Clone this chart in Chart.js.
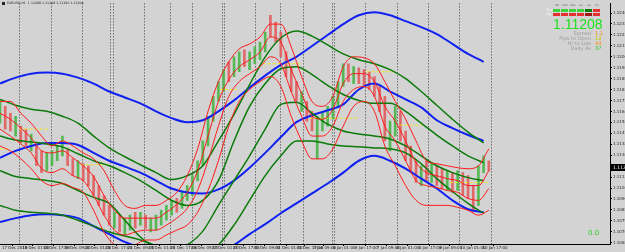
<!DOCTYPE html>
<html>
<head>
<meta charset="utf-8">
<script src="https://cdn.jsdelivr.net/npm/chart.js@4.4.0/dist/chart.umd.min.js"></script>
<style>
html, body { margin: 0; padding: 0; background: #d3d3d3; }
#wrap { position: relative; width: 625px; height: 252px; overflow: hidden; font-family: "DejaVu Sans", sans-serif; }
#c { position: absolute; left: 0; top: 0; }
.t { position: absolute; white-space: nowrap; line-height: 1; }
.pill { position: absolute; width: 7px; height: 3px; }
.hd { position: absolute; width: 8px; text-align: center; font-size: 2.5px; color: #555; line-height: 1; }
</style>
</head>
<body>
<div id="wrap">
  <canvas id="c" width="625" height="252"></canvas>
  <div class="t" style="left:2px;top:2px;width:3px;height:3px;background:#222"></div>
  <div class="t" style="left:7px;top:2px;font-size:3.2px;color:#222">EURUSD,H1&nbsp; 1.11208 1.11208 1.11196 1.11208</div>

  <div id="pills"></div>
  <div class="t" style="left:546px;top:9px;font-size:3px;color:#fff">Trnd</div>
  <div class="t" style="left:546px;top:13px;font-size:3px;color:#fff">Sig</div>

  <div class="t" style="left:553px;top:17px;font-size:14px;color:#22e022;font-family:'Liberation Sans',sans-serif">1.11208</div>
  <div class="t" style="right:34px;top:31px;font-size:5px;color:#9a9a9a">Spread</div>
  <div class="t" style="left:595px;top:31px;font-size:5px;color:#ff8c00">1.1</div>
  <div class="t" style="right:34px;top:36px;font-size:5px;color:#9a9a9a">Pips to Open</div>
  <div class="t" style="left:595px;top:36px;font-size:5px;color:#c8c800">12</div>
  <div class="t" style="right:34px;top:41px;font-size:5px;color:#9a9a9a">Hi to Low</div>
  <div class="t" style="left:595px;top:41px;font-size:5px;color:#ff8c00">44</div>
  <div class="t" style="right:34px;top:46px;font-size:5px;color:#9a9a9a">Daily Av</div>
  <div class="t" style="left:595px;top:46px;font-size:5px;color:#22cc22">37</div>

  <div class="t" style="left:588px;top:230px;font-size:7px;color:#33cc33">0.0</div>
</div>
<script>
// ---- data ----
const lastPrice = 1.11208;

const yTicks = [1.10620,1.10705,1.10790,1.10875,1.10960,1.11045,1.11130,1.11215,1.11300,1.11385,1.11470,
  1.11555,1.11640,1.11725,1.11810,1.11895,1.11980,1.12065,1.12150,1.12235,1.12320,1.12405];

// hourly bar index of each time label
const timeBars = [1.5,17,33,49,65,81,98,114,131,147,163,179,195,212,228,241,256,273,290,305,322,338,354,371];
const timeLabels = ["17 Dec 2019","18 Dec 01:00","18 Dec 17:00","19 Dec 09:00","20 Dec 01:00","20 Dec 17:00",
  "23 Dec 09:00","24 Dec 01:00","24 Dec 17:00","26 Dec 09:00","27 Dec 01:00","27 Dec 17:00","30 Dec 09:00",
  "31 Dec 01:00","31 Dec 17:00","3 Jan 09:00","6 Jan 01:00","6 Jan 17:00","7 Jan 09:00","8 Jan 01:00",
  "8 Jan 17:00","9 Jan 09:00","10 Jan 01:00","10 Jan 17:00"];

// period separators (bar index where a day starts)
const daySeparators = [14.8,39,62.8,84.6,87.2,110.8,130.8,147.7,170.5,172.3,196.2,215.4,232.8,255.2,256.9,
  280.8,305.2,329,353.3,377.7];

const candleBars = [0,4,8,12,16,20,24,28,32,36,40,44,48,52,56,60,64,68,72,76,80,84,88,92,96,100,104,108,112,116,
  120,124,128,132,136,140,144,148,152,156,160,164,168,172,176,180,184,188,192,196,200,204,208,212,216,220,224,228,
  232,236,240,244,248,252,256,260,264,268,272,276,280,284,288,292,296,300,304,308,312,316,320,324,328,332,336,340,
  344,348,352,356,360,364,368,372,376];
const candleHigh = [
  1.11718,1.11680,1.11626,1.11603,1.11526,1.11503,1.11465,1.11372,1.11334,1.11318,
  1.11334,1.11372,1.11449,1.11349,1.11272,1.11257,1.11234,1.11218,1.11141,1.11064,
  1.10987,1.10910,1.10857,1.10834,1.10811,1.10834,1.10857,1.10857,1.10834,1.10811,
  1.10834,1.10872,1.10910,1.10949,1.10964,1.11011,1.11064,1.11141,1.11257,1.11411,
  1.11603,1.11757,1.11872,1.11965,1.12026,1.12065,1.12103,1.12119,1.12103,1.12142,
  1.12180,1.12257,1.12388,1.12334,1.12257,1.12103,1.11988,1.11872,1.11795,1.11718,
  1.11641,1.11603,1.11641,1.11680,1.11757,1.11872,1.12011,1.12011,1.11988,1.11980,
  1.11965,1.11949,1.11911,1.11834,1.11757,1.11565,1.11680,1.11641,1.11488,1.11372,
  1.11257,1.11218,1.11257,1.11242,1.11218,1.11195,1.11180,1.11165,1.11180,1.11165,
  1.11141,1.11064,1.11218,1.11295,1.11257];
const candleLow = [
  1.11549,1.11503,1.11488,1.11449,1.11395,1.11372,1.11334,1.11218,1.11165,1.11180,
  1.11218,1.11257,1.11295,1.11218,1.11141,1.11118,1.11103,1.11064,1.10987,1.10910,
  1.10834,1.10757,1.10734,1.10703,1.10680,1.10718,1.10734,1.10757,1.10734,1.10703,
  1.10718,1.10757,1.10795,1.10834,1.10857,1.10887,1.10949,1.10987,1.11103,1.11218,
  1.11372,1.11565,1.11718,1.11795,1.11872,1.11911,1.11949,1.11988,1.11965,1.12011,
  1.12042,1.12103,1.12219,1.12180,1.12065,1.11911,1.11795,1.11718,1.11641,1.11565,
  1.11488,1.11272,1.11488,1.11526,1.11580,1.11680,1.11834,1.11872,1.11857,1.11857,
  1.11842,1.11811,1.11757,1.11641,1.11411,1.11334,1.11449,1.11411,1.11257,1.11165,
  1.11088,1.11064,1.11103,1.11088,1.11064,1.11041,1.11026,1.11011,1.11026,1.10987,
  1.10964,1.10857,1.10910,1.11165,1.11180];
const candleUp = [1,0,0,1,0,0,1,0,0,1, 1,1,1,0,0,1,0,0,0,0, 0,0,1,0,1,1,0,1,0,1, 1,1,1,1,0,1,1,1,1,1,
  1,1,1,1,0,1,1,0,1,1, 1,1,0,0,0,0,0,0,1,0, 0,1,1,1,1,1,1,0,1,0, 0,0,0,0,0,1,1,0,0,0,
  0,1,0,1,0,0,1,0,1,0, 0,0,1,1,0];

// slow bands (blue) and medium bands (green), one value every 12 bars
const bandBars = [0,12,24,36,48,60,72,84,96,108,120,132,144,156,168,180,192,204,216,228,240,252,264,276,288,
  300,312,324,336,348,360,372];
const blueUpper = [1.11857,1.11903,1.11934,1.11942,1.11934,1.11903,1.11857,1.11795,1.11749,1.11703,1.11641,
  1.11588,1.11557,1.11572,1.11641,1.11726,1.11826,1.11919,1.12003,1.12065,1.12149,1.12234,1.12319,1.12388,
  1.12411,1.12388,1.12342,1.12296,1.12242,1.12165,1.12088,1.12026];
const blueMiddle = [1.11280,1.11334,1.11372,1.11395,1.11395,1.11380,1.11318,1.11257,1.11211,1.11165,1.11103,
  1.11041,1.11011,1.11003,1.11034,1.11103,1.11203,1.11318,1.11441,1.11557,1.11611,1.11649,1.11695,1.11811,
  1.11857,1.11795,1.11734,1.11672,1.11572,1.11511,1.11457,1.11411];
const blueLower = [1.10780,1.10811,1.10834,1.10841,1.10834,1.10811,1.10749,1.10687,1.10626,1.10580,1.10533,
  1.10503,1.10487,1.10503,1.10549,1.10603,1.10687,1.10764,1.10849,1.10926,1.11003,1.11080,1.11165,1.11257,
  1.11295,1.11257,1.11195,1.11118,1.11041,1.10949,1.10880,1.10857];
const green1 = [1.11734,1.11688,1.11657,1.11641,1.11603,1.11549,1.11449,1.11357,1.11288,1.11226,1.11165,
  1.11111,1.11141,1.11218,1.11411,1.11618,1.11849,1.12065,1.12211,1.12265,1.12226,1.12157,1.12088,1.12042,
  1.12011,1.11965,1.11896,1.11795,1.11688,1.11580,1.11480,1.11395];
const green2 = [1.11449,1.11418,1.11403,1.11388,1.11365,1.11311,1.11257,1.11218,1.11165,1.11103,1.11026,
  1.10949,1.10910,1.10949,1.11103,1.11411,1.11680,1.11857,1.11972,1.11988,1.11926,1.11842,1.11772,1.11726,
  1.11703,1.11703,1.11641,1.11549,1.11457,1.11372,1.11295,1.11242];
const green3 = [1.11180,1.11134,1.11118,1.11103,1.11080,1.11026,1.10972,1.10926,1.10795,1.10664,1.10580,
  1.10564,1.10603,1.10710,1.10910,1.11103,1.11295,1.11503,1.11695,1.11711,1.11626,1.11541,1.11488,1.11465,
  1.11449,1.11426,1.11372,1.11295,1.11218,1.11165,1.11126,1.11103];
const green4 = [1.10910,1.10872,1.10857,1.10849,1.10834,1.10795,1.10749,1.10703,1.10672,1.10641,1.10595,
  1.10526,1.10503,1.10526,1.10603,1.10757,1.10949,1.11141,1.11295,1.11411,1.11411,1.11388,1.11372,1.11365,
  1.11357,1.11349,1.11318,1.11234,1.11118,1.11018,1.10926,1.10849];

// fast bands (red), one value every 8 bars
const redBars = [0,8,16,24,32,40,48,56,64,72,80,88,96,104,112,120,128,136,144,152,160,168,176,184,192,200,
  208,216,224,232,240,248,256,264,272,280,288,296,304,312,320,328,336,344,352,360,368,376];
const red1 = [1.11718,1.11718,1.11626,1.11549,1.11449,1.11372,1.11411,1.11372,1.11318,1.11272,1.11180,1.11026,
  1.10910,1.10887,1.10910,1.10910,1.10949,1.11011,1.11141,1.11349,1.11641,1.11872,1.12026,1.12126,1.12165,
  1.12219,1.12319,1.12319,1.12142,1.11911,1.11718,1.11680,1.11757,1.11988,1.12065,1.12057,1.12011,1.11872,
  1.11718,1.11580,1.11411,1.11257,1.11234,1.11218,1.11203,1.11195,1.11218,1.11349];
const red2 = [1.11626,1.11580,1.11511,1.11434,1.11334,1.11318,1.11334,1.11280,1.11218,1.11134,1.10987,1.10872,
  1.10811,1.10811,1.10811,1.10811,1.10857,1.10918,1.11011,1.11180,1.11449,1.11718,1.11888,1.11988,1.12042,
  1.12103,1.12219,1.12180,1.11965,1.11780,1.11603,1.11580,1.11657,1.11857,1.11934,1.11934,1.11872,1.11680,
  1.11565,1.11411,1.11242,1.11165,1.11141,1.11118,1.11103,1.11064,1.11064,1.11180];
const red3 = [1.11503,1.11449,1.11388,1.11318,1.11195,1.11165,1.11195,1.11141,1.11103,1.10987,1.10834,1.10718,
  1.10680,1.10703,1.10718,1.10718,1.10757,1.10811,1.10887,1.11026,1.11257,1.11526,1.11757,1.11872,1.11934,
  1.11988,1.12065,1.12011,1.11795,1.11603,1.11449,1.11449,1.11526,1.11718,1.11811,1.11834,1.11757,1.11526,
  1.11411,1.11257,1.11103,1.11064,1.11049,1.11026,1.11011,1.10964,1.10949,1.11041];
const red4 = [1.11372,1.11334,1.11272,1.11195,1.11103,1.11064,1.11080,1.11049,1.11011,1.10872,1.10703,1.10603,
  1.10564,1.10603,1.10641,1.10641,1.10680,1.10718,1.10757,1.10857,1.11026,1.11257,1.11526,1.11718,1.11811,
  1.11872,1.11911,1.11834,1.11603,1.11411,1.11272,1.11272,1.11349,1.11526,1.11680,1.11718,1.11641,1.11372,
  1.11218,1.11064,1.10949,1.10910,1.10910,1.10910,1.10895,1.10872,1.10834,1.10872];

// daily levels: [from bar, to bar, price]
const yellowLevels = [[0,8,1.11349],[15,38,1.11503],[62,85,1.11226],[169,182,1.11811],[202,231,1.12011],
  [238,275,1.11588],[282,305,1.11949],[308,325,1.11534],[346,375,1.11088]];

// top right status blocks
const pillHeaders = ['M5','M15','M30','H1','H4','D1'];
const pillColors = [
  ['#3fcf3f','#3fcf3f','#3fcf3f','#3fcf3f','#0b7a0b','#e43030'],
  ['#e43030','#e43030','#e43030','#e43030','#a01818','#e43030']];

// ---- panel ----
const pills = document.getElementById('pills');
pillHeaders.forEach((h, c) => {
  const d = document.createElement('div');
  d.className = 'hd';
  d.style.left = (553 + c * 8) + 'px';
  d.style.top = '5px';
  d.textContent = h;
  pills.appendChild(d);
});
pillColors.forEach((row, r) => row.forEach((col, c) => {
  const d = document.createElement('div');
  d.className = 'pill';
  d.style.left = (553 + c * 8) + 'px';
  d.style.top = (9 + r * 4) + 'px';
  d.style.background = col;
  pills.appendChild(d);
}));

// ---- chart ----
function band(values, bars, color, width) {
  return {
    type: 'line',
    data: bars.map((b, i) => ({ x: b, y: values[i] })),
    borderColor: color,
    borderWidth: width,
    pointRadius: 0,
    cubicInterpolationMode: 'monotone',
    order: 1
  };
}

const datasets = [
  {
    type: 'bar',
    data: candleBars.map((b, i) => ({ x: b, y: [candleLow[i], candleHigh[i]] })),
    backgroundColor: candleUp.map(u => u ? '#55b855' : '#e06868'),
    barThickness: 2,
    order: 10
  },
  band(red1, redBars, '#ff1a1a', 1),
  band(red2, redBars, '#ff1a1a', 1),
  band(red3, redBars, '#ff1a1a', 1),
  band(red4, redBars, '#ff1a1a', 1),
  band(green1, bandBars, '#0a7a0a', 1.5),
  band(green2, bandBars, '#0a7a0a', 1.5),
  band(green3, bandBars, '#0a7a0a', 1.5),
  band(green4, bandBars, '#0a7a0a', 1.5),
  band(blueUpper, bandBars, '#1020f0', 2),
  band(blueMiddle, bandBars, '#1020f0', 2),
  band(blueLower, bandBars, '#1020f0', 2)
];
yellowLevels.forEach(l => datasets.push({
  type: 'line',
  data: [{ x: l[0], y: l[2] }, { x: l[1], y: l[2] }],
  borderColor: '#eeee20',
  borderWidth: 1,
  borderDash: [3, 2],
  pointRadius: 0,
  order: 5
}));

const separatorPlugin = {
  id: 'separators',
  beforeDatasetsDraw(chart) {
    const { ctx, chartArea: a, scales: { x } } = chart;
    ctx.save();
    ctx.strokeStyle = '#3a3a3a';
    ctx.lineWidth = 1;
    ctx.setLineDash([1, 2]);
    daySeparators.forEach(b => {
      const px = Math.round(x.getPixelForValue(b)) + 0.5;
      ctx.beginPath();
      ctx.moveTo(px, a.top);
      ctx.lineTo(px, a.bottom);
      ctx.stroke();
    });
    ctx.restore();
  }
};

const priceTag = {
  id: 'priceTag',
  afterDraw(chart) {
    const { ctx, chartArea: a, scales: { y } } = chart;
    const py = Math.round(y.getPixelForValue(lastPrice));
    ctx.save();
    ctx.fillStyle = '#000';
    ctx.fillRect(a.right + 1, py - 3, chart.width - a.right - 1, 7);
    ctx.fillStyle = '#fff';
    ctx.font = '4.5px "DejaVu Sans"';
    ctx.textBaseline = 'middle';
    ctx.fillText(lastPrice.toFixed(5), a.right + 3, py + 0.5);
    ctx.restore();
  }
};

new Chart(document.getElementById('c'), {
  data: { datasets },
  options: {
    responsive: false,
    animation: false,
    layout: { padding: { top: 1, left: 0, right: 0, bottom: 0 } },
    plugins: { legend: { display: false }, tooltip: { enabled: false } },
    scales: {
      x: {
        type: 'linear',
        min: 0,
        max: 469.2,
        offset: false,
        afterBuildTicks: s => { s.ticks = timeBars.map(v => ({ value: v })); },
        afterFit: s => { s.height = 8; },
        ticks: {
          callback: (v, i) => timeLabels[i],
          autoSkip: false,
          maxRotation: 0,
          align: 'start',
          padding: 0,
          color: '#222',
          font: { size: 4, family: 'DejaVu Sans' }
        },
        grid: { drawOnChartArea: false, drawTicks: true, tickLength: 2, color: '#000' },
        border: { display: true, color: '#000', width: 1 }
      },
      y: {
        type: 'linear',
        position: 'right',
        min: 1.10610,
        max: 1.12480,
        afterBuildTicks: s => { s.ticks = yTicks.map(v => ({ value: v })); },
        afterFit: s => { s.width = 15; },
        ticks: {
          callback: v => v.toFixed(5),
          crossAlign: 'near',
          padding: 1,
          color: '#222',
          font: { size: 4, family: 'DejaVu Sans' }
        },
        grid: { drawOnChartArea: false, drawTicks: true, tickLength: 2, color: '#000' },
        border: { display: true, color: '#000', width: 1 }
      }
    }
  },
  plugins: [separatorPlugin, priceTag]
});
</script>
</body>
</html>
